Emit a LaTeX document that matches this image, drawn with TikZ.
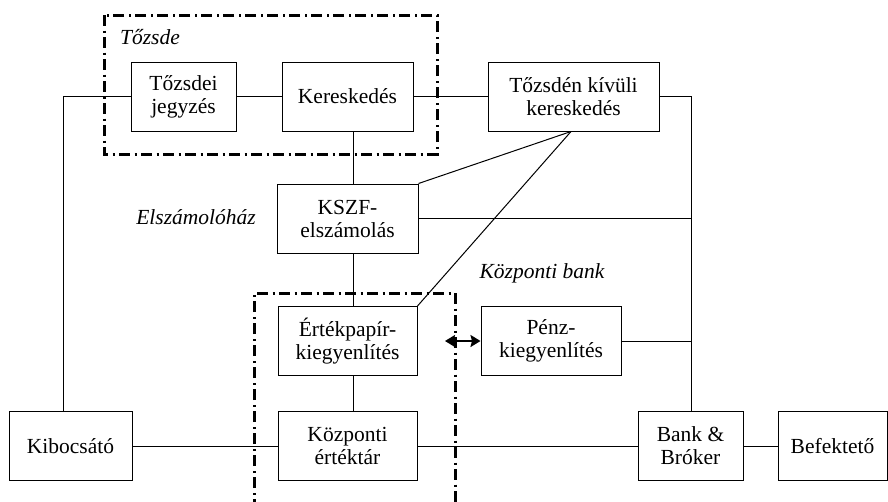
\documentclass[tikz,border=0pt]{standalone}
\usepackage{fontspec}
\setmainfont{Liberation Serif}
\usetikzlibrary{arrows.meta}
\begin{document}
\begin{tikzpicture}[x=1pt,y=-1pt,
  box/.style={draw, line width=1pt, minimum width=#1, minimum height=69pt, inner sep=0pt, align=center, font=\fontsize{21.5}{23}\selectfont},
  lbl/.style={font=\fontsize{21.5}{23}\selectfont\itshape, inner sep=0pt},
  conn/.style={line width=1pt},
  region/.style={line width=3pt, dash pattern=on 11pt off 4.5pt on 2pt off 4.5pt},
  dbl/.style={line width=2pt, {Stealth[length=10pt,width=12pt,inset=1.5pt]}-{Stealth[length=10pt,width=12pt,inset=1.5pt]}}
]
\useasboundingbox (0,0) rectangle (888,501);
% boxes
\node[box=105pt] (tj) at (183.5,96.5) {Tőzsdei\\jegyzés};
\node[box=131pt] (ker) at (347.5,96.5) {Kereskedés};
\node[box=171pt] (tkk) at (573.5,96.5) {Tőzsdén kívüli\\kereskedés};
\node[box=141pt] (kszf) at (347.5,218.5) {KSZF-\\elszámolás};
\node[box=139pt] (ert) at (347.5,341) {Értékpapír-\\kiegyenlítés};
\node[box=140pt] (penz) at (551,341) {Pénz-\\kiegyenlítés};
\node[box=139pt] (kozp) at (347.5,446) {Központi\\értéktár};
\node[box=123pt] (kib) at (70.5,446) {Kibocsátó};
\node[box=105pt] (bank) at (690.5,446) {Bank \&\\Bróker};
\node[box=109pt] (bef) at (832.5,446) {Befektető};
% labels
\node[lbl] (tozsde) at (150,37) {Tőzsde};
\node[lbl] (elsz) at (196,217) {Elszámolóház};
\node[lbl] (kb) at (542,273) {Központi bank};
% regions
\draw[region] (104,15) rectangle (437,154);
\draw[region] (254,510) -- (254,293) -- (455,293) -- (455,510);
% helper coordinates
\coordinate (vx) at (353,0);
\coordinate (lx) at (63,0);
\coordinate (rx) at (691,0);
\coordinate (ax) at (445,341);
% connectors
\draw[conn] (tj.west) -- (tj.west -| lx) -- (kib.north -| lx);
\draw[conn] (tj) -- (ker);
\draw[conn] (ker) -- (tkk);
\draw[conn] (tkk.east) -| (bank.north -| rx);
\draw[conn] (ker.south -| vx) -- (kszf.north -| vx);
\draw[conn] (kszf.south -| vx) -- (ert.north -| vx);
\draw[conn] (ert.south -| vx) -- (kozp.north -| vx);
\draw[conn] ([xshift=-2.5pt]tkk.south) -- (kszf.north east);
\draw[conn] ([xshift=-2.5pt]tkk.south) -- (ert.north east);
\draw[conn] (kszf.east) -- (kszf.east -| rx);
\draw[conn] (penz.east) -- (penz.east -| rx);
\draw[conn] (kib) -- (kozp);
\draw[conn] (kozp) -- (bank);
\draw[conn] (bank) -- (bef);
\draw[dbl] (ax) -- (penz.west);
\end{tikzpicture}
\end{document}
